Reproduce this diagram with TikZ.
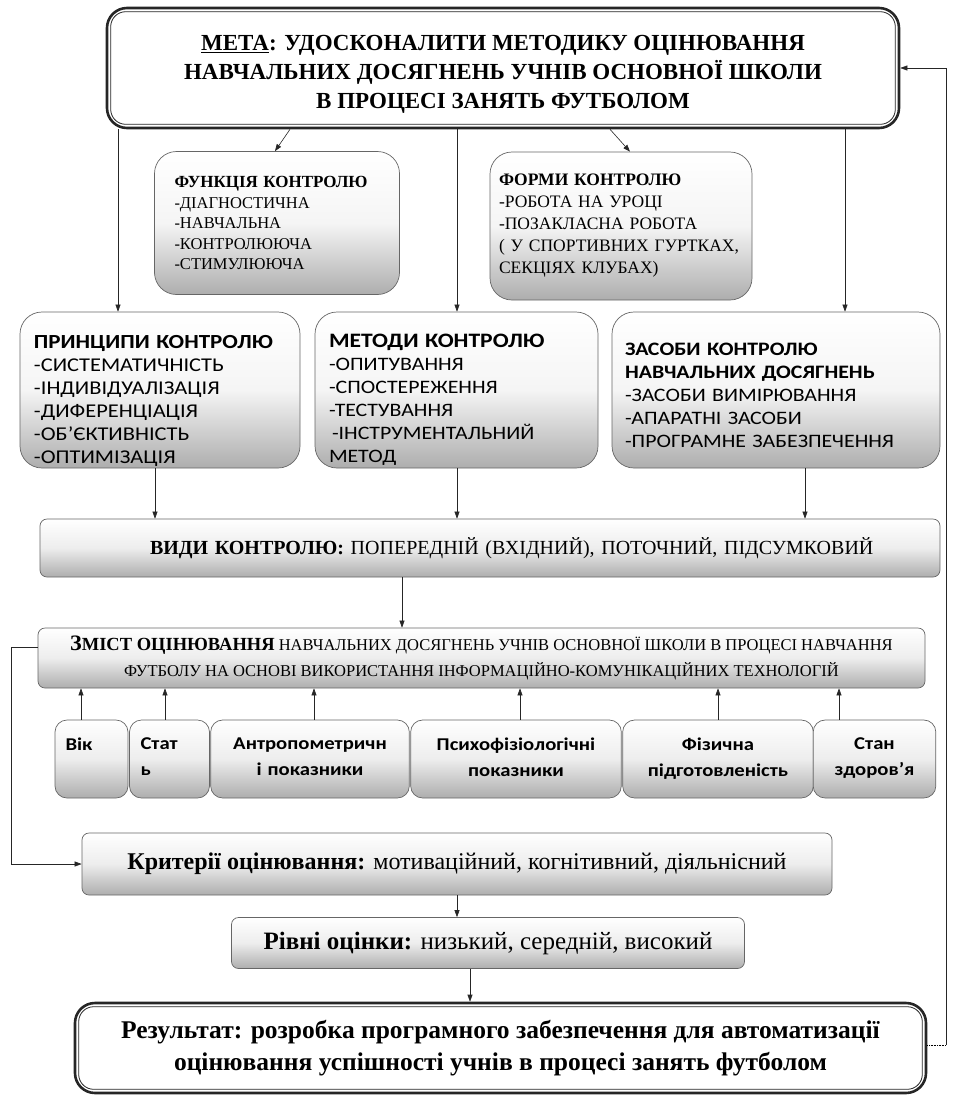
\documentclass[tikz,border=0pt]{standalone}
\usepackage{fontspec}
\setmainfont{Liberation Serif}
\newfontfamily\carl[FakeStretch=1.15]{Carlito}
\usetikzlibrary{arrows.meta}
\tikzset{
  arr/.style={-{Triangle[length=7pt,width=5pt]}, line width=0.6pt, draw=black!85},
  gbox/.style={draw=black!60, line width=0.7pt, rounded corners=22pt,
     top color=white, bottom color=black!32, middle color=black!4},
  flatbox/.style={draw=black!60, line width=0.7pt, rounded corners=7pt,
     top color=white, bottom color=black!32, middle color=black!7},
  dblbox/.style={draw=black!85, line width=2.6pt, rounded corners=20pt, fill=white},
  inner/.style={draw=black!85, line width=0.8pt, rounded corners=15pt},
}
\begin{document}
\begin{tikzpicture}[x=1pt,y=-1pt]
\useasboundingbox (0,0) rectangle (954,1096);

% top goal box
\node[dblbox, minimum width=792pt, minimum height=120pt, align=center,
      font={\bfseries\fontsize{23}{29}\selectfont}] (meta) at (503,68)
  {\rule{0pt}{28pt}\underline{МЕТА}: УДОСКОНАЛИТИ МЕТОДИКУ ОЦІНЮВАННЯ\\
   НАВЧАЛЬНИХ ДОСЯГНЕНЬ УЧНІВ  ОСНОВНОЇ ШКОЛИ\\
   В ПРОЦЕСІ ЗАНЯТЬ ФУТБОЛОМ};
\draw[inner] ([shift={(5pt,5pt)}]meta.south west) rectangle ([shift={(-5pt,-5pt)}]meta.north east);

% second row
\node[gbox, minimum width=245pt, minimum height=143pt, text width=205pt, align=left,
      font={\fontsize{16.5}{20.5}\selectfont}] (func) at (277,223)
  {{\bfseries\fontsize{17}{20.5}\selectfont ФУНКЦІЯ КОНТРОЛЮ}\\
   -ДІАГНОСТИЧНА\\ -НАВЧАЛЬНА\\ -КОНТРОЛЮЮЧА\\ -СТИМУЛЮЮЧА};
\node[gbox, minimum width=262pt, minimum height=148pt, text width=244pt, align=left,
      font={\fontsize{17.5}{22}\selectfont}] (form) at (621,226)
  {{\bfseries\fontsize{17.5}{22}\selectfont ФОРМИ КОНТРОЛЮ}\\
   -РОБОТА НА УРОЦІ\\ -ПОЗАКЛАСНА  РОБОТА\\ ( У СПОРТИВНИХ ГУРТКАХ,\\ СЕКЦІЯХ  КЛУБАХ)};

% third row
\node[gbox, minimum width=280pt, minimum height=156pt, text width=252pt, align=left,
      inner ysep=1pt, font={\carl\fontsize{19.5}{23}\selectfont}] (princ) at (160,390)
  {{\bfseries\fontsize{20}{23}\selectfont\rule{0pt}{35pt}ПРИНЦИПИ КОНТРОЛЮ}\\
   -СИСТЕМАТИЧНІСТЬ\\ -ІНДИВІДУАЛІЗАЦІЯ\\ -ДИФЕРЕНЦІАЦІЯ\\ -ОБ’ЄКТИВНІСТЬ\\ -ОПТИМІЗАЦІЯ};
\node[gbox, minimum width=283pt, minimum height=156pt, text width=255pt, align=left,
      inner ysep=1pt, font={\carl\fontsize{19}{23}\selectfont}] (metod) at (456.5,390)
  {{\bfseries\fontsize{20.5}{23}\selectfont\rule{0pt}{33pt}МЕТОДИ КОНТРОЛЮ}\\
   -ОПИТУВАННЯ\\ -СПОСТЕРЕЖЕННЯ\\ -ТЕСТУВАННЯ\\ \hspace*{3pt}-ІНСТРУМЕНТАЛЬНИЙ\\ МЕТОД};
\node[gbox, minimum width=328pt, minimum height=156pt, text width=302pt, align=left,
      font={\carl\fontsize{19}{23}\selectfont}] (zasob) at (776,390)
  {{\bfseries\fontsize{19}{26}\selectfont\rule{0pt}{23pt}ЗАСОБИ КОНТРОЛЮ\\ НАВЧАЛЬНИХ ДОСЯГНЕНЬ}\\
   -ЗАСОБИ ВИМІРЮВАННЯ\\ -АПАРАТНІ ЗАСОБИ\\ -ПРОГРАМНЕ ЗАБЕЗПЕЧЕННЯ};

% types of control
\node[flatbox, minimum width=900pt, minimum height=58pt, text width=860pt, align=left,
      font={\fontsize{20}{24}\selectfont}] (vydy) at (490,548)
  {\hspace*{90pt}\textbf{ВИДИ КОНТРОЛЮ:}  ПОПЕРЕДНІЙ (ВХІДНИЙ), ПОТОЧНИЙ, ПІДСУМКОВИЙ};

% content
\node[flatbox, minimum width=887pt, minimum height=60pt, align=center,
      font={\fontsize{16.5}{26}\selectfont}] (zmist) at (481.5,658)
  {{\bfseries\fontsize{22}{26}\selectfont З\fontsize{18.5}{26}\selectfont МІСТ ОЦІНЮВАННЯ} НАВЧАЛЬНИХ ДОСЯГНЕНЬ УЧНІВ ОСНОВНОЇ ШКОЛИ В ПРОЦЕСІ НАВЧАННЯ\\
   ФУТБОЛУ НА ОСНОВІ ВИКОРИСТАННЯ ІНФОРМАЦІЙНО-КОМУНІКАЦІЙНИХ ТЕХНОЛОГІЙ};

% indicators
\tikzset{small/.style={flatbox, rounded corners=12pt, minimum height=78pt,
   font={\carl\bfseries\fontsize{18}{26}\selectfont}, text depth=30pt}}
\node[small, minimum width=73pt, text width=52pt, align=left] (vik) at (91.5,759) {Вік};
\node[small, minimum width=80pt, text width=58pt, align=left] (stat) at (169.5,759) {Стат\\ь};
\node[small, minimum width=196pt, text width=192pt, align=center] (antr) at (310,759) {Антропометричн\\і показники};
\node[small, minimum width=208pt, text width=204pt, align=center] (psych) at (516,759) {Психофізіологічні\\показники};
\node[small, minimum width=188pt, text width=184pt, align=center] (fiz) at (718,759) {Фізична\\підготовленість};
\node[small, minimum width=120pt, text width=116pt, align=center] (stan) at (874.5,759) {Стан\\здоров’я};

% criteria, levels, result
\node[flatbox, minimum width=750pt, minimum height=62pt, align=center,
      font={\fontsize{24}{28}\selectfont}] (kryt) at (457,864)
  {\textbf{Критерії оцінювання:} мотиваційний,  когнітивний,  діяльнісний};
\node[flatbox, minimum width=513pt, minimum height=51pt, align=center,
      font={\fontsize{25}{28}\selectfont}] (rivni) at (488,943)
  {\textbf{Рівні оцінки:}  низький, середній, високий};
\node[dblbox, minimum width=851pt, minimum height=90pt, align=center,
      font={\bfseries\fontsize{25.5}{32}\selectfont}] (rez) at (500.5,1048)
  {Результат: розробка програмного забезпечення для автоматизації\\
   оцінювання успішності учнів в процесі занять  футболом};
\draw[inner] ([shift={(5pt,5pt)}]rez.south west) rectangle ([shift={(-5pt,-5pt)}]rez.north east);

% connectors from the goal
\draw[arr] (118,0 |- meta.south) -- (118,0 |- princ.north);
\draw[arr] (290,0 |- meta.south) -- (275,0 |- func.north);
\draw[arr] (457,0 |- meta.south) -- (457,0 |- metod.north);
\draw[arr] (610,0 |- meta.south) -- (630,0 |- form.north);
\draw[arr] (845,0 |- meta.south) -- (845,0 |- zasob.north);
% to types
\draw[arr] (155,0 |- princ.south) -- (155,0 |- vydy.north);
\draw[arr] (457,0 |- metod.south) -- (457,0 |- vydy.north);
\draw[arr] (805,0 |- zasob.south) -- (805,0 |- vydy.north);
\draw[arr] (402,0 |- vydy.south) -- (402,0 |- zmist.north);
% indicators to content
\draw[arr] (81,0 |- vik.north) -- (81,0 |- zmist.south);
\draw[arr] (165,0 |- stat.north) -- (165,0 |- zmist.south);
\draw[arr] (314,0 |- antr.north) -- (314,0 |- zmist.south);
\draw[arr] (520,0 |- psych.north) -- (520,0 |- zmist.south);
\draw[arr] (718,0 |- fiz.north) -- (718,0 |- zmist.south);
\draw[arr] (839,0 |- stan.north) -- (839,0 |- zmist.south);
% content to criteria
\coordinate (fbL) at (11,647);
\draw[arr] (zmist.west |- fbL) -- (fbL) -- (fbL |- kryt.west) -- (kryt.west);
\draw[arr] (457,0 |- kryt.south) -- (457,0 |- rivni.north);
\draw[arr] (470,0 |- rivni.south) -- (470,0 |- rez.north);
% feedback
\coordinate (fbR) at (946,1045);
\draw[densely dotted, line width=0.6pt] (rez.east |- fbR) -- (fbR);
\draw[arr] (fbR) -- (fbR |- meta.east) -- (meta.east);
\end{tikzpicture}
\end{document}
